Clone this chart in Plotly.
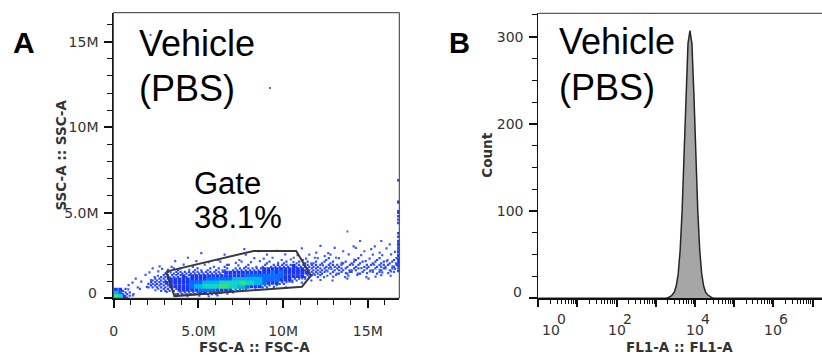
import plotly.graph_objects as go

W, H = 822, 355

# ---------------- Panel A: FSC-A vs SSC-A (values in millions) ----------------
fsc_tickvals = [0, 5, 10, 15]
fsc_ticktext = ["0", "5.0M", "10M", "15M"]
ssc_tickvals = [0, 5, 10, 15]
ssc_ticktext = ["", "5.0M", "10M", "15M"]
fsc_range = [-0.03, 16.86]
ssc_range = [0, 16.7]

# event density: columns are FSC bins of 0.25M (0..17M),
# rows are SSC bins of 0.2M, listed from the top row (3.8-4.0M) down to 0-0.2M.
# 0 = empty, 1 = sparse, 2 = moderate, 3..7 = dense (blue -> cyan -> green)
cell_w = 0.25
cell_h = 0.2
density_rows = [
    "0000000000" "0000000000" "0000000000" "0000000000" "0000000000" "0000000000" "00000000",
    "0000000000" "0000000000" "0000000000" "0000000000" "0000000000" "0000000000" "00000000",
    "0000000000" "0000000000" "0000000000" "0000000000" "0000000000" "0000000000" "00000000",
    "0000000000" "0000000000" "0000000000" "0000000000" "0000000000" "0000000010" "00010000",
    "0000000000" "0000000000" "0000000000" "0000000000" "0000000010" "0000001000" "01000100",
    "0000000000" "0000000000" "0000000000" "1000000000" "0000100000" "0010000100" "10001000",
    "0000000000" "0000000000" "1000000000" "0000100010" "0000000100" "1000100001" "00100010",
    "0000000000" "0000000000" "0000001000" "0100001000" "1001001001" "0100010010" "01010100",
    "0000000000" "0000000100" "0000100001" "0001010101" "0110110110" "2011001200" "10201020",
    "0000000000" "0000100001" "0010010010" "1010102010" "2012021202" "0201202021" "02021210",
    "0000000000" "1001001010" "0101002101" "0201020222" "2232222221" "2222021202" "21222120",
    "0000000001" "0110120102" "1020212022" "2222233333" "3333322222" "2122212212" "12121210",
    "0000000010" "1021222222" "2222223333" "3333333434" "3333332222" "1212121121" "11211110",
    "0000000101" "1222223233" "3333333333" "3444444444" "3333322121" "1110110101" "01010100",
    "0000010012" "2223333333" "3344444455" "5555544443" "3322111010" "0100010000" "10000000",
    "0000101022" "2233333344" "4555566666" "7665543332" "2110100000" "0000000000" "00000000",
    "0001010122" "2223333345" "5666677665" "5433322110" "1000000000" "0000000000" "00000000",
    "3321001001" "1222233333" "4444333322" "1101000000" "0000000000" "0000000000" "00000000",
    "5422100000" "0010122222" "3322211010" "0000000000" "0000000000" "0000000000" "00000000",
    "7632100000" "0000000100" "1010100000" "0000000000" "0000000000" "0000000000" "00000000",
]

# saturated events piled up at the right edge of FSC
pileup_fsc = 16.8
pileup_ssc = [1.6, 1.75, 1.9, 2.0, 2.1, 2.2, 2.3, 2.45, 2.55, 2.7, 2.8, 2.95, 3.1,
              3.2, 3.35, 3.6, 3.8, 4.4, 4.6, 4.8, 5.0, 5.1, 5.6, 5.65, 6.9]
# isolated events
stray_fsc = [2.17, 9.22, 13.8]
stray_ssc = [15.4, 12.3, 3.9]

# gate polygon
gate_fsc = [3.09, 3.58, 11.11, 11.64, 10.77, 8.25, 3.09]
gate_ssc = [1.56, 0.13, 0.68, 1.32, 2.77, 2.77, 1.56]

# ---------------- Panel B: FL1-A histogram ----------------
fl1_log10 = [0.0, 3.27, 3.32, 3.37, 3.42, 3.47, 3.52, 3.57, 3.62, 3.67, 3.72, 3.77, 3.82,
             3.87, 3.92, 3.97, 4.02, 4.07, 4.12, 4.17, 4.22, 4.27, 4.32, 4.37, 4.42, 4.47, 7.24]
fl1_count = [0, 0, 1, 2, 4, 7, 14, 28, 55, 100, 165, 235, 292,
             307, 292, 235, 165, 100, 55, 28, 14, 7, 4, 2, 1, 0, 0]
count_tickvals = [0, 100, 200, 300]
count_ticktext = ["", "100", "200", "300"]
fl1_decades = [0, 1, 2, 3, 4, 5, 6, 7]
fl1_labeled = [0, 2, 4, 6]
fl1_range = [0, 7.24]
count_range = [0, 326.8]

# ---------------- styling ----------------
level_color = {1: "#3a5aff", 2: "#2a48ff", 3: "#1a36f5", 4: "#0a6cff",
               5: "#00b4f5", 6: "#12d6c4", 7: "#3ce07a"}
level_size = {1: 2.2, 2: 2.2, 3: 3.8, 4: 4.6, 5: 4.8, 6: 4.8, 7: 4.8}
jx = [-0.08, 0.04, -0.02, 0.08, 0.0]
jy = [0.05, -0.06, 0.02, -0.03, 0.07]

pts = {lv: ([], []) for lv in range(1, 8)}
n_rows = len(density_rows)
for i, row in enumerate(density_rows):
    r = n_rows - 1 - i
    yc = (r + 0.5) * cell_h
    for c, ch in enumerate(row):
        lv = int(ch)
        if lv == 0:
            continue
        xc = (c + 0.5) * cell_w
        if lv == 1:
            k = (c + 2 * r) % 5
            pts[1][0].append(xc + jx[k]); pts[1][1].append(yc + jy[k])
        elif lv == 2:
            pts[2][0].extend([xc - 0.08, xc + 0.07]); pts[2][1].extend([yc - 0.06, yc + 0.05])
        else:
            pts[lv][0].append(xc); pts[lv][1].append(yc)

fig = go.Figure()

for lv in range(1, 8):
    xs, ys = pts[lv]
    if not xs:
        continue
    fig.add_trace(go.Scatter(x=xs, y=ys, mode="markers", xaxis="x", yaxis="y",
                             marker=dict(symbol="square", size=level_size[lv],
                                         color=level_color[lv], line=dict(width=0)),
                             hoverinfo="skip"))

fig.add_trace(go.Scatter(x=[pileup_fsc] * len(pileup_ssc), y=pileup_ssc, mode="markers",
                         xaxis="x", yaxis="y",
                         marker=dict(symbol="square", size=2.4, color="#2344ff", line=dict(width=0)),
                         hoverinfo="skip"))
fig.add_trace(go.Scatter(x=stray_fsc, y=stray_ssc, mode="markers", xaxis="x", yaxis="y",
                         marker=dict(symbol="square", size=2, color="#4a68ff", line=dict(width=0)),
                         hoverinfo="skip"))

fig.add_trace(go.Scatter(x=gate_fsc, y=gate_ssc, mode="lines", xaxis="x", yaxis="y",
                         line=dict(color="#3a3a3a", width=2), hoverinfo="skip"))

fig.add_trace(go.Scatter(x=[10 ** v for v in fl1_log10], y=fl1_count, mode="lines",
                         xaxis="x2", yaxis="y2", fill="tozeroy", fillcolor="#a6a6a6",
                         line=dict(color="#262626", width=1.5), hoverinfo="skip"))

tick_font = dict(family="DejaVu Sans", size=14, color="#333333")
title_font = dict(family="DejaVu Sans", size=13.5, color="#333333")
big_font = dict(family="Liberation Sans, Arial", size=36, color="#000000")

def px(x):
    return x / W

def py(y):
    return 1 - y / H

fsc_minor = [v for v in range(1, 17) if v % 5 != 0]
ssc_minor = [v for v in range(1, 17) if v % 5 != 0]
count_minor = [v for v in range(25, 326, 25) if v % 100 != 0]
fl1_minor = [m * 10 ** d for d in range(0, 8) for m in range(2, 10)]

fig.update_layout(
    width=W, height=H, margin=dict(l=0, r=0, t=0, b=0),
    paper_bgcolor="white", plot_bgcolor="white", showlegend=False,
    xaxis=dict(domain=[px(113.3), px(399.3)], range=fsc_range, anchor="y",
               tickmode="array", tickvals=fsc_tickvals, ticktext=fsc_ticktext,
               ticks="outside", ticklen=8, tickwidth=1.5, tickcolor="#111111",
               showline=True, linewidth=2, linecolor="#111111",
               showgrid=False, zeroline=False, tickfont=tick_font,
               ticklabelstandoff=11, automargin=False,
               minor=dict(tickmode="array", tickvals=fsc_minor, ticks="outside",
                          ticklen=5, tickwidth=1, tickcolor="#111111", showgrid=False)),
    yaxis=dict(domain=[py(298.3), py(12.7)], range=ssc_range, anchor="x",
               tickmode="array", tickvals=ssc_tickvals, ticktext=ssc_ticktext,
               ticks="outside", ticklen=8, tickwidth=1.5, tickcolor="#111111",
               showline=True, linewidth=1, linecolor="#111111",
               showgrid=False, zeroline=False, tickfont=tick_font,
               ticklabelstandoff=3, automargin=False,
               minor=dict(tickmode="array", tickvals=ssc_minor, ticks="outside",
                          ticklen=5, tickwidth=1, tickcolor="#111111", showgrid=False)),
    xaxis2=dict(domain=[px(538.3), 1.0], range=fl1_range, type="log", anchor="y2",
                tickmode="array", tickvals=[10 ** d for d in fl1_decades],
                ticktext=["" for d in fl1_decades],
                ticks="outside", ticklen=7, tickwidth=1.5, tickcolor="#111111",
                showline=True, linewidth=2, linecolor="#111111",
                showgrid=False, zeroline=False, tickfont=tick_font, automargin=False,
                minor=dict(tickmode="array", tickvals=fl1_minor, ticks="outside",
                           ticklen=4, tickwidth=1, tickcolor="#111111", showgrid=False)),
    yaxis2=dict(domain=[py(298.3), py(13.3)], range=count_range, anchor="x2",
                tickmode="array", tickvals=count_tickvals, ticktext=count_ticktext,
                ticks="outside", ticklen=8, tickwidth=1.5, tickcolor="#111111",
                showline=True, linewidth=1, linecolor="#111111",
                showgrid=False, zeroline=False, tickfont=tick_font,
                ticklabelstandoff=3, automargin=False,
                minor=dict(tickmode="array", tickvals=count_minor, ticks="outside",
                           ticklen=5, tickwidth=1, tickcolor="#111111", showgrid=False)),
)

shapes = [
    dict(type="rect", xref="x domain", yref="y domain", x0=0, x1=1, y0=0, y1=1,
         line=dict(color="#333333", width=1), layer="above"),
    dict(type="line", xref="x2 domain", yref="y2 domain", x0=0, x1=1, y0=1, y1=1,
         line=dict(color="#333333", width=1), layer="above"),
]
fig.update_layout(shapes=shapes)

ann = []

def text(x, y, s, font, xanchor="left", yanchor="middle", angle=0, pad=1):
    ann.append(dict(x=px(x), y=py(y), xref="paper", yref="paper", text=s, showarrow=False,
                    font=font, xanchor=xanchor, yanchor=yanchor, textangle=angle,
                    borderpad=pad))

# panel letters
text(24, 42.5, "<b>A</b>", dict(family="Liberation Sans, Arial", size=30, color="#000"), "center")
text(459.5, 43.3, "<b>B</b>", dict(family="Liberation Sans, Arial", size=29, color="#000"), "center")
# sample labels
text(136.5, 43, "Vehicle", big_font)
text(136.5, 88, "(PBS)", big_font)
text(556.5, 42, "Vehicle", big_font)
text(556.5, 87.5, "(PBS)", big_font)
# gate label
gate_font = dict(family="Liberation Sans, Arial", size=31, color="#000000")
text(191.5, 183.3, "Gate", gate_font)
text(191.5, 217.5, "38.1%", gate_font)
# axis titles
text(254.7, 346.5, "<b>FSC-A :: FSC-A</b>", title_font, "center", pad=0)
text(60.8, 154.7, "<b>SSC-A :: SSC-A</b>", title_font, "center", angle=-90)
text(486.7, 155, "<b>Count</b>", title_font, "center", angle=-90)
text(679.2, 346.5, "<b>FL1-A :: FL1-A</b>", title_font, "center", pad=0)
# zero labels (drawn slightly above the axis as in the original)
text(99, 292.7, "0", tick_font, "right")
text(524, 292, "0", tick_font, "right")

# log decade labels for FL1-A
for d in fl1_labeled:
    shift = 13 if d == 0 else 0
    ann.append(dict(x=d, y=py(330.2), xref="x2", yref="paper", text="10", showarrow=False,
                    font=tick_font, xanchor="center", yanchor="middle", xshift=shift,
                    borderpad=0))
    ann.append(dict(x=d, y=py(319), xref="x2", yref="paper", text=str(d), showarrow=False,
                    font=tick_font, xanchor="left", yanchor="middle", xshift=shift + 5,
                    borderpad=0))

fig.update_layout(annotations=ann)

fig.write_html("out.html")
